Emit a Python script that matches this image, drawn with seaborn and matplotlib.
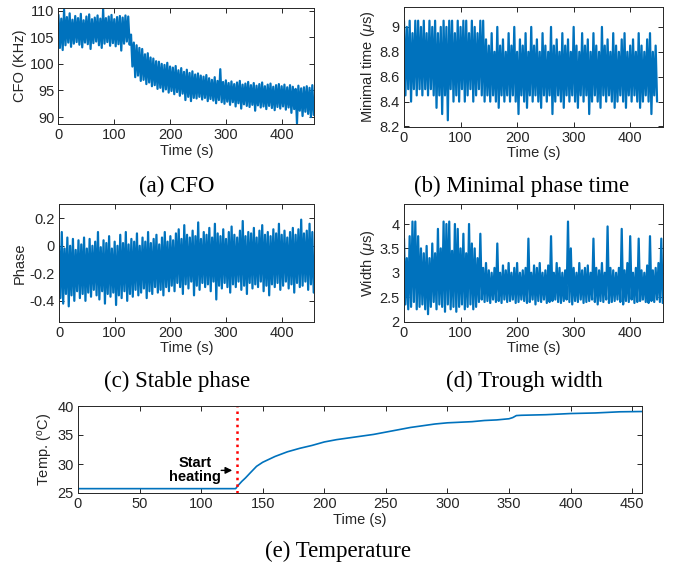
import numpy as np
import pandas as pd
import matplotlib
matplotlib.use("Agg")
import matplotlib.pyplot as plt
import seaborn as sns

# ---------------- data ----------------
STEP = 5.0  # seconds between successive envelope readings

# (a) CFO (KHz): upper / lower excursions every 5 s
cfo_hi = [109.2, 108.5, 110.2, 108.8, 109.5, 108.3, 109.0, 108.6, 109.4, 108.2,
          108.9, 109.3, 108.4, 108.7, 109.1, 108.5, 110.3, 108.6, 108.9, 109.2,
          108.4, 108.8, 109.0, 108.7, 109.1, 108.9,
          105.5, 104.0, 103.5, 103.0, 102.8, 101.8, 102.0, 101.2, 101.0, 100.5,
          100.4, 100.0, 99.8, 100.2, 99.5, 99.3, 99.6, 98.8, 99.2, 98.5,
          98.9, 98.3, 98.6, 98.0, 98.2, 97.8, 97.6, 97.9, 97.3, 97.0,
          97.5, 96.8, 99.0, 96.6, 96.9, 96.4, 96.7, 96.2, 96.5, 96.8,
          96.1, 96.3, 96.6, 96.0, 96.4, 95.9, 96.2, 96.5, 95.8, 96.1,
          96.3, 95.7, 96.0, 96.2, 95.8, 96.1, 95.6, 96.0, 95.7, 95.3,
          95.9, 95.4, 95.6, 95.8, 95.5, 96.0]
cfo_lo = [103.0, 102.6, 103.5, 104.0, 103.2, 103.8, 104.1, 103.6, 103.1, 104.0,
          103.7, 102.8, 103.9, 104.2, 103.5, 103.0, 103.8, 104.1, 103.4, 103.9,
          103.3, 103.7, 102.5, 103.8, 104.2, 103.6,
          99.5, 97.5, 97.8, 96.8, 97.0, 96.2, 96.5, 95.8, 96.0, 95.3,
          95.5, 94.8, 95.2, 94.6, 94.9, 94.3, 94.7, 94.0, 94.4, 93.2,
          93.8, 93.0, 93.6, 93.5, 93.8, 93.3, 93.6, 93.0, 93.4, 93.1,
          92.6, 93.2, 92.8, 92.5, 92.9, 92.3, 92.8, 92.0, 92.6, 91.6,
          92.4, 92.1, 91.9, 92.3, 91.2, 92.2, 91.8, 92.0, 91.5, 92.1,
          91.7, 91.3, 91.9, 91.6, 92.0, 91.4, 91.8, 90.8, 91.5, 88.8,
          91.2, 90.2, 91.0, 90.6, 90.0, 90.4]

# (b) Minimal phase time (us)
mpt_hi = [9.05, 9.0, 9.05, 8.95, 9.05, 9.05, 9.0, 9.05, 8.95, 9.05,
          9.0, 9.05, 8.95, 9.0, 9.05, 9.0, 9.05, 9.05, 8.95, 9.05,
          9.0, 9.05, 9.05, 8.95, 9.05, 9.0, 8.95, 9.05,
          9.05, 8.9, 8.85, 8.95, 8.8, 9.0, 8.85, 8.9, 8.8, 8.95,
          8.85, 9.0, 8.8, 8.9, 8.85, 8.95, 8.8, 9.0, 8.85, 8.9,
          8.8, 8.95, 8.85, 8.8, 9.0, 8.85, 8.9, 8.8, 8.95, 8.85,
          8.9, 8.8, 9.0, 8.85, 8.8, 8.95, 8.85, 8.9, 8.8, 8.95,
          8.85, 8.8, 9.0, 8.85, 8.9, 8.8, 8.95, 8.85, 8.8, 8.9,
          8.95, 8.8, 8.85, 8.9, 8.8, 8.95, 8.85, 8.8, 8.9, 8.95,
          8.8, 8.85]
mpt_lo = [8.45, 8.5, 8.4, 8.5, 8.45, 8.5, 8.45, 8.5, 8.45, 8.5,
          8.45, 8.35, 8.45, 8.3, 8.45, 8.25, 8.5, 8.4, 8.45, 8.4,
          8.5, 8.4, 8.45, 8.5, 8.4, 8.45, 8.5, 8.45,
          8.4, 8.45, 8.4, 8.45, 8.4, 8.35, 8.45, 8.4, 8.45, 8.4,
          8.45, 8.4, 8.3, 8.45, 8.4, 8.35, 8.45, 8.4, 8.45, 8.4,
          8.35, 8.45, 8.4, 8.45, 8.3, 8.4, 8.45, 8.4, 8.35, 8.45,
          8.4, 8.45, 8.4, 8.35, 8.45, 8.4, 8.45, 8.3, 8.4, 8.45,
          8.4, 8.35, 8.45, 8.4, 8.45, 8.4, 8.35, 8.4, 8.45, 8.4,
          8.35, 8.45, 8.4, 8.45, 8.4, 8.35, 8.4, 8.45, 8.4, 8.3,
          8.45, 8.4]

# (c) Stable phase
sph_hi = [0.0, 0.1, -0.02, 0.06, 0.0, 0.05, -0.03, 0.04, 0.01, 0.06,
          -0.02, 0.05, 0.0, 0.03, 0.1, -0.01, 0.04, 0.02, 0.07, -0.02,
          0.03, 0.0, 0.08, 0.02, 0.1, 0.01, 0.05, 0.03, 0.09, 0.0,
          0.06, 0.03, 0.1, 0.02, 0.05, 0.08, 0.01, 0.06, 0.1, 0.03,
          0.07, 0.04, 0.09, 0.12, 0.05, 0.15, 0.08, 0.06, 0.11, 0.07,
          0.17, 0.05, 0.1, 0.08, 0.13, 0.06, 0.16, 0.09, 0.07, 0.12,
          0.05, 0.1, 0.14, 0.08, 0.06, 0.11, 0.18, 0.07, 0.1, 0.09,
          0.13, 0.06, 0.11, 0.15, 0.08, 0.1, 0.07, 0.12, 0.09, 0.16,
          0.08, 0.11, 0.06, 0.1, 0.13, 0.08, 0.12, 0.19, 0.09, 0.11,
          0.16, 0.1]
sph_lo = [-0.38, -0.42, -0.35, -0.44, -0.36, -0.4, -0.33, -0.38, -0.35, -0.4,
          -0.34, -0.37, -0.32, -0.36, -0.39, -0.33, -0.42, -0.35, -0.37, -0.34,
          -0.43, -0.36, -0.38, -0.33, -0.4, -0.35, -0.37, -0.32, -0.36, -0.34,
          -0.31, -0.38, -0.33, -0.35, -0.3, -0.34, -0.32, -0.36, -0.3, -0.33,
          -0.29, -0.33, -0.27, -0.3, -0.35, -0.28, -0.31, -0.26, -0.36, -0.29,
          -0.32, -0.27, -0.3, -0.28, -0.33, -0.26, -0.39, -0.29, -0.31, -0.27,
          -0.3, -0.34, -0.28, -0.3, -0.26, -0.32, -0.29, -0.35, -0.27, -0.31,
          -0.28, -0.3, -0.26, -0.33, -0.29, -0.36, -0.28, -0.3, -0.27, -0.32,
          -0.29, -0.26, -0.31, -0.28, -0.34, -0.27, -0.3, -0.29, -0.26, -0.32,
          -0.28, -0.34]

# (d) Trough width (us)
tw_hi = [3.7, 3.3, 3.75, 4.05, 4.05, 3.75, 3.5, 3.4, 3.55, 3.3,
         3.6, 3.4, 3.9, 3.5, 4.05, 4.0, 4.05, 3.45, 4.0, 3.9,
         3.5, 3.8, 3.4, 4.0, 3.6, 3.5,
         3.3, 3.8, 3.1, 3.2, 3.05, 3.0, 3.1, 3.6, 3.0, 3.15,
         3.05, 3.2, 3.0, 3.1, 3.2, 3.0, 3.05, 3.1, 3.7, 3.0,
         3.15, 3.1, 3.2, 3.0, 3.05, 3.15, 3.75, 3.0, 3.2, 3.1,
         3.0, 3.05, 4.05, 3.5, 3.1, 3.0, 3.2, 3.05, 3.1, 3.15,
         3.0, 3.7, 3.1, 3.05, 3.2, 3.0, 3.95, 3.1, 3.05, 3.0,
         3.1, 3.9, 3.05, 3.2, 3.75, 3.0, 3.1, 3.7, 3.05, 3.0,
         3.15, 3.75, 3.05, 3.1, 3.2, 3.7]
tw_lo = [2.35, 2.25, 2.3, 2.4, 2.25, 2.3, 2.35, 2.25, 2.15, 2.3,
         2.4, 2.25, 2.35, 2.3, 2.2, 2.35, 2.25, 2.3, 2.2, 2.3,
         2.35, 2.25, 2.3, 2.35, 2.25, 2.3,
         2.4, 2.45, 2.4, 2.42, 2.38, 2.45, 2.4, 2.42, 2.38, 2.45,
         2.4, 2.42, 2.45, 2.38, 2.4, 2.45, 2.42, 2.38, 2.4, 2.45,
         2.35, 2.42, 2.4, 2.45, 2.38, 2.4, 2.42, 2.45, 2.4, 2.38,
         2.42, 2.45, 2.4, 2.35, 2.42, 2.4, 2.45, 2.38, 2.4, 2.42,
         2.45, 2.4, 2.35, 2.42, 2.4, 2.45, 2.38, 2.4, 2.42, 2.45,
         2.4, 2.35, 2.42, 2.4, 2.45, 2.38, 2.4, 2.42, 2.45, 2.4,
         2.38, 2.42, 2.4, 2.45, 2.4, 2.38]

# (e) Temperature (deg C)
temp_t = [0, 20, 40, 60, 80, 100, 120, 128, 130, 133, 136, 140, 145, 150, 155,
          160, 170, 180, 190, 200, 210, 220, 230, 240, 250, 260, 270, 280, 290,
          300, 310, 320, 330, 340, 350, 353, 356, 360, 380, 400, 420, 440, 458]
temp_v = [25.75, 25.75, 25.75, 25.75, 25.75, 25.75, 25.75, 25.75, 26.3, 27.0,
          27.6, 28.5, 29.6, 30.3, 30.8, 31.3, 32.1, 32.7, 33.2, 33.8, 34.2,
          34.5, 34.8, 35.1, 35.5, 35.9, 36.3, 36.6, 36.9, 37.1, 37.2, 37.3,
          37.5, 37.6, 37.8, 38.0, 38.35, 38.4, 38.5, 38.7, 38.8, 39.0, 39.05]
heat_start = 129

captions = ["(a) CFO", "(b) Minimal phase time", "(c) Stable phase",
            "(d) Trough width", "(e) Temperature"]

# ---------------- styling ----------------
sns.set_theme(style="ticks")
plt.rcParams["font.family"] = ["Liberation Sans", "DejaVu Sans"]
plt.rcParams["mathtext.fontset"] = "custom"
plt.rcParams["mathtext.rm"] = "Liberation Sans"
plt.rcParams["mathtext.it"] = "Liberation Sans:italic"
BLUE = "#0072BD"
AX_COL = "#262626"
FS = 10.5
CAP_FS = 16.5


def series_frame(hi, lo, step):
    t_hi = np.arange(len(hi)) * step
    t_lo = np.arange(len(lo)) * step + step / 2
    df = pd.DataFrame({"t": np.concatenate([t_hi, t_lo]),
                       "v": np.concatenate([hi, lo])})
    return df.sort_values("t").reset_index(drop=True)


W, H = 677, 566
fig = plt.figure(figsize=(W / 100, H / 100), dpi=100)


def make_ax(l, r, t, b):
    return fig.add_axes([l / W, 1 - b / H, (r - l) / W, (b - t) / H])


def style_ax(ax):
    for s in ax.spines.values():
        s.set_color(AX_COL)
        s.set_linewidth(0.7)
    ax.tick_params(direction="in", top=True, right=True, length=3.5,
                   width=0.7, colors=AX_COL, labelsize=FS, pad=3)
    ax.set_xlabel("Time (s)", fontsize=FS, color=AX_COL, labelpad=1)


panels = [
    (cfo_hi, cfo_lo, (58.5, 314, 8, 124), (88.7, 110.5), [90, 95, 100, 105, 110], "CFO (KHz)"),
    (mpt_hi, mpt_lo, (404, 663, 7, 126.5), (8.2, 9.16), [8.2, 8.4, 8.6, 8.8, 9.0], r"Minimal time ($\mu$s)"),
    (sph_hi, sph_lo, (59, 314, 204.5, 321.5), (-0.55, 0.3), [-0.4, -0.2, 0, 0.2], "Phase"),
    (tw_hi, tw_lo, (404, 663, 204.5, 321.5), (2.0, 4.4), [2, 2.5, 3, 3.5, 4], r"Width ($\mu$s)"),
]
ticklabels = [["90", "95", "100", "105", "110"],
              ["8.2", "8.4", "8.6", "8.8", "9"],
              ["-0.4", "-0.2", "0", "0.2"],
              ["2", "2.5", "3", "3.5", "4"]]

for (hi, lo, box, ylim, yt, ylab), ytl in zip(panels, ticklabels):
    ax = make_ax(*box)
    df = series_frame(hi, lo, STEP)
    sns.lineplot(data=df, x="t", y="v", ax=ax, color=BLUE, linewidth=1.6,
                 estimator=None, sort=False)
    ax.set_xlim(0, 458)
    ax.set_ylim(*ylim)
    ax.set_xticks([0, 100, 200, 300, 400])
    ax.set_yticks(yt)
    ax.set_yticklabels(ytl)
    style_ax(ax)
    ax.set_ylabel(ylab, fontsize=FS, color=AX_COL, labelpad=2)

# temperature panel
ax = make_ax(78, 642, 406, 493)
sns.lineplot(x=temp_t, y=temp_v, ax=ax, color=BLUE, linewidth=1.2,
             estimator=None, sort=False)
ax.axvline(heat_start, color="red", linestyle=":", linewidth=1.8)
ax.set_xlim(0, 458)
ax.set_ylim(25, 40)
ax.set_xticks(np.arange(0, 451, 50))
ax.set_yticks([25, 30, 35, 40])
style_ax(ax)
ax.set_ylabel(r"Temp. ($^{\mathrm{o}}$C)", fontsize=FS, color=AX_COL, labelpad=2)
ax.annotate("", xy=(heat_start - 1.5, 28.9), xytext=(114, 28.9),
            arrowprops=dict(arrowstyle="-|>", color="black", lw=1.0,
                            mutation_scale=10))
ax.text(95, 29.0, "Start\nheating", ha="center", va="center",
        fontsize=FS, fontweight="bold", color="black", linespacing=1.0)

# captions
cap_pos = [(177, 186), (522, 186), (177, 381), (524, 381), (338, 551)]
for txt, (cx, cy) in zip(captions, cap_pos):
    fig.text(cx / W, 1 - cy / H, txt, ha="center", va="center",
             fontsize=CAP_FS, family=["Liberation Serif", "DejaVu Serif"],
             color="black")

fig.savefig("out.png", dpi=100)
